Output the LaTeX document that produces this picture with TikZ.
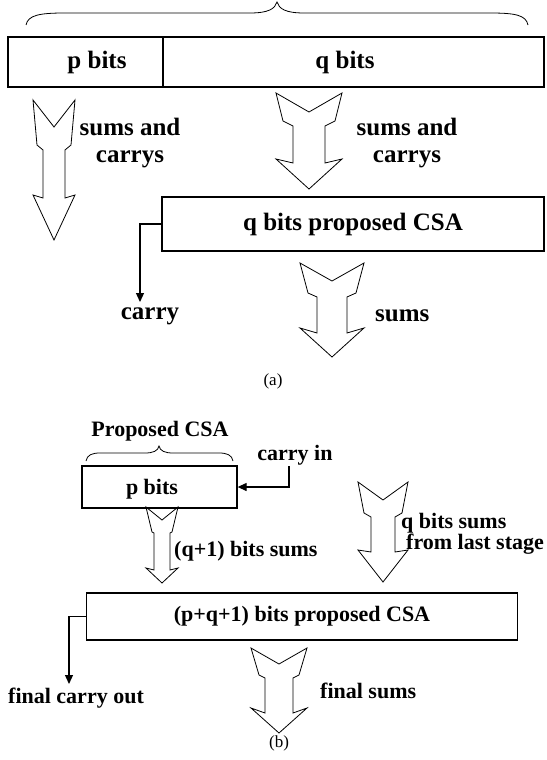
\documentclass[tikz,border=0pt]{standalone}
\usepackage{fontspec}
\setmainfont{Liberation Serif}
\usetikzlibrary{arrows.meta}
\begin{document}
\begin{tikzpicture}[x=1pt,y=-1pt,
  box/.style={draw,line width=1.3pt,inner sep=0pt},
  lblA/.style={font=\fontsize{25}{27}\selectfont\bfseries,inner sep=0pt},
  lblB/.style={font=\fontsize{22}{24}\selectfont\bfseries,inner sep=0pt},
  figcap/.style={font=\fontsize{17}{20}\selectfont,inner sep=0pt},
  harr/.style={draw,line width=0.8pt,line join=miter},
  conn/.style={line width=1.2pt,-{Triangle[length=9pt,width=8pt]}},
  brc/.style={line width=0.8pt}]
\useasboundingbox (0,0) rectangle (546,760);
% ---------- (a) ----------
\draw[brc] (26,25) .. controls (28,15) and (40,13) .. (65,13) -- (250,13)
  .. controls (268,13) and (275,9) .. (277,2)
  .. controls (279,9) and (286,13) .. (304,13) -- (490,13)
  .. controls (515,13) and (526,15) .. (528,25);
\node[box,minimum width=155pt,minimum height=50pt] (pbox) at (85.5,62) {};
\node[box,minimum width=381pt,minimum height=50pt] (qbox) at (353.5,62) {};
\node[lblA] (ptxt) at (97,62) {p bits};
\node[lblA] (qtxt) at (345,62) {q bits};
% hollow arrows
\draw[harr,shift={(54,100)}] (-21,0) -- (0,27) -- (21,0) -- (17,45) -- (11,50) -- (11,98) -- (21,95) -- (0,140) -- (-21,95) -- (-11,98) -- (-11,50) -- (-17,45) -- cycle;
\draw[harr,shift={(309,93)}] (-33,0) -- (0,19) -- (33,0) -- (26,28) -- (16,33) -- (16,70) -- (33,66) -- (0,96) -- (-33,66) -- (-16,70) -- (-16,33) -- (-26,28) -- cycle;
\draw[harr,shift={(332,263)}] (-32,0) -- (0,18) -- (32,0) -- (24,30) -- (15,34) -- (15,70) -- (32,65) -- (0,94) -- (-32,65) -- (-15,70) -- (-15,34) -- (-24,30) -- cycle;
\node[lblA,align=center] (sc1) at (130,143) {sums and\\carrys};
\node[lblA,align=center] (sc2) at (407,143) {sums and\\carrys};
\node[box,lblA,minimum width=382pt,minimum height=54pt] (csaA) at (353,224) {q bits proposed CSA};
\node[lblA] (carry) at (150,316) {carry};
\coordinate (carrytip) at (140,302);
\draw[conn] (csaA.west) -| (carrytip);
\node[lblA,anchor=west] (sums) at (375,316) {sums};
\node[figcap] (capa) at (273,381) {(a)};
% ---------- (b) ----------
\node[lblB] (prop) at (160,431) {Proposed CSA};
\draw[brc] (86,461) .. controls (87,455) and (92,453) .. (100,453) -- (145,453)
  .. controls (153,453) and (158,451) .. (159,446)
  .. controls (160,451) and (165,453) .. (173,453) -- (219,453)
  .. controls (227,453) and (232,455) .. (233,461);
\node[box,minimum width=155pt,minimum height=42pt] (pb) at (159.5,487) {};
\node[lblB] (pbt) at (152,489) {p bits};
\node[lblB] (cin) at (295,455) {carry in};
\coordinate (cinstart) at (289,466);
\draw[conn] (cinstart) |- (pb.east);
\draw[harr,shift={(162,507)}] (-16,0) -- (0,13) -- (16,0) -- (10,25) -- (8,26) -- (8,63) -- (16,61) -- (0,76) -- (-16,61) -- (-8,63) -- (-8,26) -- (-10,25) -- cycle;
\node[lblB,anchor=west] (q1) at (174,551) {(q+1) bits sums};
\draw[harr,shift={(383,482)}] (-25,0) -- (0,18) -- (25,0) -- (19,31) -- (12,35) -- (12,70) -- (25,68) -- (0,100) -- (-25,68) -- (-12,70) -- (-12,35) -- (-19,31) -- cycle;
\node[lblB,anchor=west] (qs1) at (401,523) {q bits sums};
\node[lblB,anchor=west] (qs2) at (406,544) {from last stage};
\node[box,lblB,minimum width=431pt,minimum height=47pt] (fb) at (302,616.5) {(p+q+1) bits proposed CSA};
\coordinate (cotip) at (69,684);
\draw[conn] (fb.west) -| (cotip);
\node[lblB] (fco) at (76,698) {final carry out};
\draw[harr,shift={(279,648)}] (-28,0) -- (0,16) -- (28,0) -- (20,27) -- (14,30) -- (14,65) -- (28,60) -- (0,85) -- (-28,60) -- (-14,65) -- (-14,30) -- (-20,27) -- cycle;
\node[lblB,anchor=west] (fs) at (320,691) {final sums};
\node[figcap] (capb) at (279,743) {(b)};
\end{tikzpicture}
\end{document}
